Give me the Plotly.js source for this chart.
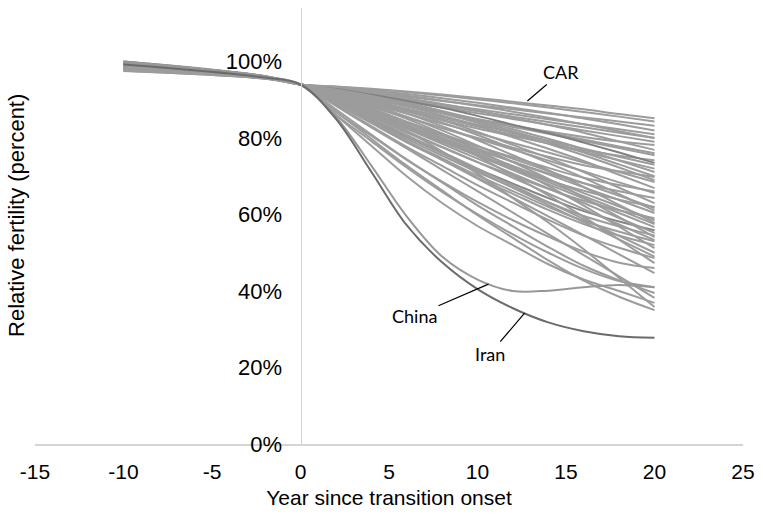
<!DOCTYPE html>
<html>
<head>
<meta charset="utf-8">
<script src="https://cdn.plot.ly/plotly-3.0.1.min.js"></script>
<style>html,body{margin:0;padding:0;background:#fff;}#chart{width:763px;height:517px;}</style>
</head>
<body>
<div id="chart"></div>
<script>
// Years since transition onset
const years = [-10, -2, 0, 2, 4, 6, 8, 10, 12, 14, 16, 18, 20];

// Labelled countries (relative fertility, fraction of pre-transition level)
const CAR   = [0.995, 0.960, 0.94, 0.935, 0.929, 0.922, 0.914, 0.905, 0.895, 0.885, 0.875, 0.863, 0.852];
const China = [0.997, 0.960, 0.94, 0.855, 0.728, 0.595, 0.490, 0.430, 0.400, 0.401, 0.410, 0.416, 0.410];
const Iran  = [0.992, 0.958, 0.94, 0.850, 0.712, 0.572, 0.475, 0.405, 0.355, 0.318, 0.295, 0.282, 0.278];

// Other countries, slow decliners
const upperBand = [
  [0.990, 0.958, 0.94, 0.934, 0.927, 0.920, 0.911, 0.901, 0.891, 0.880, 0.868, 0.856, 0.843],
  [1.000, 0.961, 0.94, 0.929, 0.918, 0.908, 0.897, 0.886, 0.875, 0.864, 0.854, 0.843, 0.832],
  [0.985, 0.957, 0.94, 0.933, 0.924, 0.915, 0.904, 0.892, 0.879, 0.866, 0.851, 0.836, 0.820],
  [0.998, 0.960, 0.94, 0.927, 0.914, 0.901, 0.888, 0.875, 0.862, 0.849, 0.836, 0.823, 0.810],
  [0.975, 0.955, 0.94, 0.932, 0.922, 0.911, 0.898, 0.884, 0.869, 0.853, 0.836, 0.818, 0.800],
  [0.993, 0.959, 0.94, 0.926, 0.912, 0.898, 0.884, 0.870, 0.856, 0.842, 0.828, 0.814, 0.800],
  [0.990, 0.958, 0.94, 0.925, 0.910, 0.895, 0.880, 0.865, 0.850, 0.835, 0.820, 0.805, 0.790],
  [1.000, 0.962, 0.94, 0.921, 0.902, 0.883, 0.866, 0.848, 0.833, 0.817, 0.803, 0.791, 0.782],
  [0.980, 0.956, 0.94, 0.930, 0.918, 0.904, 0.889, 0.872, 0.853, 0.834, 0.814, 0.791, 0.769],
  [0.987, 0.957, 0.94, 0.922, 0.904, 0.886, 0.868, 0.850, 0.832, 0.814, 0.796, 0.778, 0.760],
  [0.996, 0.960, 0.94, 0.922, 0.903, 0.885, 0.866, 0.848, 0.829, 0.811, 0.792, 0.774, 0.755],
  [0.988, 0.957, 0.94, 0.916, 0.892, 0.869, 0.847, 0.825, 0.805, 0.786, 0.768, 0.754, 0.742],
  [0.997, 0.960, 0.94, 0.928, 0.913, 0.897, 0.879, 0.858, 0.835, 0.813, 0.788, 0.762, 0.735],
  [0.992, 0.959, 0.94, 0.919, 0.898, 0.877, 0.856, 0.835, 0.814, 0.793, 0.772, 0.751, 0.730]
];

// Other countries, intermediate decliners
const middleBand = [
  [0.990, 0.958, 0.94, 0.918, 0.896, 0.874, 0.852, 0.830, 0.808, 0.786, 0.764, 0.742, 0.720],
  [0.999, 0.961, 0.94, 0.926, 0.910, 0.892, 0.871, 0.848, 0.823, 0.798, 0.771, 0.741, 0.711],
  [0.982, 0.956, 0.94, 0.926, 0.909, 0.890, 0.868, 0.844, 0.818, 0.791, 0.762, 0.731, 0.700],
  [0.985, 0.956, 0.94, 0.911, 0.882, 0.853, 0.826, 0.800, 0.775, 0.751, 0.729, 0.713, 0.698],
  [0.995, 0.960, 0.94, 0.925, 0.908, 0.888, 0.865, 0.840, 0.813, 0.785, 0.755, 0.723, 0.690],
  [0.978, 0.956, 0.94, 0.915, 0.889, 0.864, 0.838, 0.813, 0.787, 0.762, 0.736, 0.711, 0.685],
  [0.993, 0.959, 0.94, 0.924, 0.905, 0.883, 0.859, 0.832, 0.802, 0.772, 0.740, 0.704, 0.669],
  [0.997, 0.960, 0.94, 0.906, 0.873, 0.839, 0.808, 0.778, 0.750, 0.722, 0.696, 0.677, 0.660],
  [1.000, 0.961, 0.94, 0.912, 0.883, 0.855, 0.826, 0.798, 0.770, 0.741, 0.713, 0.684, 0.656],
  [0.990, 0.958, 0.94, 0.904, 0.869, 0.833, 0.800, 0.768, 0.738, 0.708, 0.682, 0.661, 0.643],
  [0.996, 0.960, 0.94, 0.921, 0.900, 0.875, 0.847, 0.816, 0.782, 0.748, 0.711, 0.670, 0.630],
  [0.983, 0.957, 0.94, 0.902, 0.863, 0.825, 0.790, 0.754, 0.722, 0.690, 0.662, 0.639, 0.620],
  [0.994, 0.959, 0.94, 0.908, 0.875, 0.843, 0.811, 0.779, 0.746, 0.714, 0.682, 0.649, 0.617],
  [0.989, 0.958, 0.94, 0.920, 0.897, 0.871, 0.841, 0.808, 0.772, 0.735, 0.696, 0.653, 0.610],
  [0.998, 0.961, 0.94, 0.906, 0.873, 0.839, 0.806, 0.772, 0.738, 0.705, 0.671, 0.638, 0.604],
  [0.987, 0.957, 0.94, 0.898, 0.856, 0.814, 0.776, 0.737, 0.702, 0.667, 0.636, 0.611, 0.590],
  [0.993, 0.959, 0.94, 0.905, 0.869, 0.834, 0.798, 0.763, 0.727, 0.692, 0.656, 0.621, 0.585],
  [0.995, 0.960, 0.94, 0.918, 0.893, 0.864, 0.831, 0.795, 0.755, 0.716, 0.672, 0.625, 0.578],
  [0.976, 0.955, 0.94, 0.904, 0.867, 0.831, 0.794, 0.758, 0.721, 0.685, 0.648, 0.612, 0.575],
  [0.992, 0.959, 0.94, 0.903, 0.865, 0.828, 0.791, 0.754, 0.716, 0.679, 0.642, 0.604, 0.567],
  [0.999, 0.961, 0.94, 0.894, 0.849, 0.803, 0.761, 0.719, 0.681, 0.643, 0.609, 0.582, 0.559],
  [0.989, 0.958, 0.94, 0.901, 0.862, 0.824, 0.785, 0.746, 0.707, 0.668, 0.630, 0.591, 0.552],
  [0.994, 0.960, 0.94, 0.893, 0.845, 0.798, 0.754, 0.711, 0.671, 0.632, 0.596, 0.569, 0.545],
  [0.981, 0.956, 0.94, 0.916, 0.888, 0.856, 0.820, 0.780, 0.737, 0.693, 0.645, 0.593, 0.541],
  [0.997, 0.960, 0.94, 0.899, 0.859, 0.818, 0.777, 0.737, 0.696, 0.655, 0.614, 0.574, 0.533],
  [0.985, 0.957, 0.94, 0.891, 0.842, 0.792, 0.747, 0.702, 0.661, 0.620, 0.583, 0.555, 0.530],
  [0.991, 0.958, 0.94, 0.890, 0.839, 0.789, 0.743, 0.696, 0.654, 0.612, 0.575, 0.545, 0.520],
  [0.986, 0.957, 0.94, 0.914, 0.884, 0.850, 0.812, 0.769, 0.722, 0.675, 0.623, 0.568, 0.512],
  [0.998, 0.961, 0.94, 0.896, 0.852, 0.808, 0.764, 0.720, 0.676, 0.632, 0.588, 0.544, 0.500]
];

// Other countries, fast decliners
const lowerBand = [
  [0.993, 0.959, 0.94, 0.895, 0.850, 0.805, 0.760, 0.715, 0.670, 0.625, 0.580, 0.535, 0.490],
  [0.990, 0.958, 0.94, 0.886, 0.831, 0.777, 0.727, 0.677, 0.631, 0.586, 0.545, 0.513, 0.486],
  [0.995, 0.960, 0.94, 0.912, 0.879, 0.842, 0.800, 0.753, 0.702, 0.650, 0.594, 0.534, 0.473],
  [0.984, 0.957, 0.94, 0.868, 0.806, 0.743, 0.686, 0.633, 0.585, 0.542, 0.503, 0.474, 0.460],
  [0.997, 0.960, 0.94, 0.891, 0.841, 0.792, 0.743, 0.694, 0.644, 0.595, 0.546, 0.496, 0.447],
  [0.990, 0.958, 0.94, 0.861, 0.792, 0.723, 0.659, 0.601, 0.548, 0.500, 0.458, 0.426, 0.410],
  [0.979, 0.956, 0.94, 0.875, 0.809, 0.744, 0.684, 0.624, 0.569, 0.515, 0.466, 0.428, 0.395],
  [0.993, 0.959, 0.94, 0.884, 0.828, 0.773, 0.717, 0.661, 0.605, 0.549, 0.494, 0.438, 0.382],
  [0.998, 0.960, 0.94, 0.860, 0.780, 0.700, 0.630, 0.570, 0.520, 0.470, 0.430, 0.400, 0.369],
  [0.988, 0.958, 0.94, 0.905, 0.864, 0.818, 0.765, 0.707, 0.643, 0.579, 0.509, 0.434, 0.358],
  [0.994, 0.959, 0.94, 0.869, 0.798, 0.728, 0.663, 0.598, 0.539, 0.480, 0.427, 0.385, 0.350]
];

const yTickVals = [0, 0.2, 0.4, 0.6, 0.8, 1.0];
const yTickText = ['0%', '20%', '40%', '60%', '80%', '100%'];
const xTickVals = [-15, -10, -5, 0, 5, 10, 15, 20, 25];
const xTickText = ['-15', '-10', '-5', '0', '5', '10', '15', '20', '25'];

const GREY = '#9c9c9c';
const DARK = '#6b6b6b';
const FONT = 'Liberation Sans, Arial, sans-serif';

function lineTrace(vals, color) {
  return {x: years, y: vals, type: 'scatter', mode: 'lines',
          line: {color: color, width: 2, shape: 'spline', smoothing: 1},
          hoverinfo: 'skip', showlegend: false};
}

const traces = [];
upperBand.forEach((v, i) => traces.push(lineTrace(v, i === 12 ? '#808080' : GREY)));
middleBand.forEach((v, i) => traces.push(lineTrace(v, i === 20 ? '#858585' : GREY)));
lowerBand.forEach(v => traces.push(lineTrace(v, GREY)));
traces.push(lineTrace(CAR, GREY));
traces.push(lineTrace(China, '#979797'));
traces.push(lineTrace(Iran, DARK));

const annFont = {family: 'Lato, Calibri, sans-serif', size: 18, color: '#000'};

const layout = {
  width: 763, height: 517,
  margin: {l: 35, r: 20, t: 8, b: 73},
  paper_bgcolor: '#fff', plot_bgcolor: '#fff',
  font: {family: FONT, size: 21, color: '#000'},
  xaxis: {
    range: [-15, 25], tickvals: xTickVals, ticktext: xTickText, showgrid: false, zeroline: false,
    showline: true, linecolor: '#d4d4d4', linewidth: 1.5, ticks: '',
    tickfont: {family: FONT, size: 21, color: '#000'}, ticklabelstandoff: 8,
    title: {text: 'Year since transition onset', font: {family: FONT, size: 21, color: '#000'}, standoff: 8}
  },
  yaxis: {
    range: [0, 1.14], tickvals: yTickVals, ticktext: yTickText,
    anchor: 'free', position: 0.375, showgrid: false, zeroline: false,
    showline: true, linecolor: '#d4d4d4', linewidth: 1.5, ticks: '',
    tickfont: {family: FONT, size: 22, color: '#000'}, ticklabelstandoff: 14
  },
  annotations: [
    {xref: 'paper', yref: 'paper', x: -0.0254, y: 0.523, text: 'Relative fertility (percent)',
     textangle: -90, showarrow: false, xanchor: 'center', yanchor: 'middle',
     font: {family: FONT, size: 22, color: '#000'}},
    {x: 12.82, y: 0.897, text: 'CAR', showarrow: true, arrowhead: 0, arrowwidth: 1.2, arrowcolor: '#000',
     ax: 34, ay: -29, font: annFont},
    {x: 10.62, y: 0.418, text: 'China', showarrow: true, arrowhead: 0, arrowwidth: 1.2, arrowcolor: '#000',
     ax: -74, ay: 32, font: annFont},
    {x: 12.66, y: 0.342, text: 'Iran', showarrow: true, arrowhead: 0, arrowwidth: 1.2, arrowcolor: '#000',
     ax: -35, ay: 41, font: annFont}
  ]
};

Plotly.newPlot('chart', traces, layout, {displayModeBar: false, staticPlot: true});
</script>
</body>
</html>
